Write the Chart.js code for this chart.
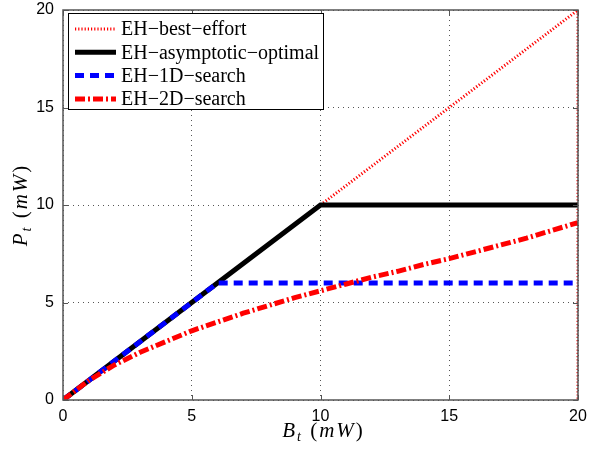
<!DOCTYPE html>
<html>
<head>
<meta charset="utf-8">
<script src="https://cdn.jsdelivr.net/npm/chart.js@4"></script>
<style>
  html, body { margin: 0; padding: 0; background: #fff; }
  #wrap { width: 589px; height: 455px; }
</style>
</head>
<body>
<div id="wrap"><canvas id="chart" width="589" height="455"></canvas></div>
<script>
// data
const seriesNames = ["EH\u2212best\u2212effort", "EH\u2212asymptotic\u2212optimal", "EH\u22121D\u2212search", "EH\u22122D\u2212search"];

const bestX = [0, 20, 20];
const bestY = [0, 20, 0];

const asymX = [0, 10, 20];
const asymY = [0, 10, 10];

const oneDX = [0, 6, 20];
const oneDY = [0, 6, 6];

const twoDX = [0, 1, 2, 3, 4, 5, 6, 7, 8, 9, 10, 11, 12, 13, 14, 15, 16, 17, 18, 19, 20];
const twoDY = [0, 1.0, 1.8, 2.45, 3.0, 3.55, 4.0, 4.45, 4.85, 5.25, 5.6, 5.95, 6.3, 6.6, 6.95, 7.25, 7.6, 7.95, 8.3, 8.7, 9.1];

const xTicks = [0, 5, 10, 15, 20];
const yTicks = [0, 5, 10, 15, 20];

const pts = (xs, ys) => xs.map((x, i) => ({ x: x, y: ys[i] }));

const styles = [
  { color: "#ff0000", width: 3, dash: [1.2, 2], order: 4 },
  { color: "#000000", width: 5, dash: [], order: 3 },
  { color: "#0000ff", width: 5, dash: [9, 6], order: 2 },
  { color: "#ff0000", width: 5, dash: [10, 3, 2, 3], order: 1 },
];

const allData = [pts(bestX, bestY), pts(asymX, asymY), pts(oneDX, oneDY), pts(twoDX, twoDY)];

const datasets = allData.map((d, i) => ({
  label: seriesNames[i],
  data: d,
  borderColor: styles[i].color,
  borderWidth: styles[i].width,
  borderDash: styles[i].dash,
  borderCapStyle: "butt",
  pointRadius: 0,
  fill: false,
  tension: 0,
  order: styles[i].order,
}));

const framePlugin = {
  id: "framePlugin",
  afterDraw(chart) {
    const { ctx, chartArea } = chart;
    const { left, top, right, bottom } = chartArea;
    const xs = chart.scales.x;
    const ys = chart.scales.y;

    ctx.save();

    // frame
    ctx.strokeStyle = "#555";
    ctx.lineWidth = 1.5;
    ctx.setLineDash([]);
    ctx.strokeRect(left, top, right - left, bottom - top);

    // inward tick marks
    ctx.lineWidth = 1;
    xTicks.forEach((t) => {
      const px = Math.round(xs.getPixelForValue(t)) + 0.5;
      ctx.beginPath();
      ctx.moveTo(px, bottom);
      ctx.lineTo(px, bottom - 5);
      ctx.moveTo(px, top);
      ctx.lineTo(px, top + 5);
      ctx.stroke();
    });
    yTicks.forEach((t) => {
      const py = Math.round(ys.getPixelForValue(t)) + 0.5;
      ctx.beginPath();
      ctx.moveTo(left, py);
      ctx.lineTo(left + 5, py);
      ctx.moveTo(right, py);
      ctx.lineTo(right - 5, py);
      ctx.stroke();
    });

    // legend box
    const lx = 68, ly = 13, lw = 255, lh = 96;
    ctx.fillStyle = "#fff";
    ctx.fillRect(lx, ly, lw, lh);
    ctx.strokeStyle = "#000";
    ctx.lineWidth = 1;
    ctx.strokeRect(lx + 0.5, ly + 0.5, lw, lh);

    ctx.font = "20px 'Liberation Serif', serif";
    ctx.textBaseline = "middle";
    ctx.textAlign = "left";
    chart.data.datasets.forEach((ds, i) => {
      const rowY = 29 + i * 23.3;
      ctx.beginPath();
      ctx.strokeStyle = ds.borderColor;
      ctx.lineWidth = ds.borderWidth;
      ctx.setLineDash(ds.borderDash);
      ctx.moveTo(75, rowY);
      ctx.lineTo(116, rowY);
      ctx.stroke();
      ctx.setLineDash([]);
      ctx.fillStyle = "#000";
      ctx.fillText(ds.label, 121, rowY + 1);
    });

    // axis titles with subscripts
    const parts = [
      { t: "", italic: true, size: 21, dy: 0 },
      { t: "t", italic: true, size: 14, dy: 4 },
      { t: " (", italic: false, size: 21, dy: 0 },
      { t: "mW", italic: true, size: 21, dy: 0 },
      { t: ")", italic: false, size: 21, dy: 0 },
    ];
    const setFont = (p) => {
      ctx.font = (p.italic ? "italic " : "") + p.size + "px 'Liberation Serif', serif";
    };
    const drawTitle = (main, cx, cy) => {
      const list = parts.map((p, i) => (i === 0 ? { ...p, t: main } : p));
      ctx.letterSpacing = "2px";
      let total = 0;
      list.forEach((p) => {
        setFont(p);
        total += ctx.measureText(p.t).width;
      });
      let x = cx - total / 2;
      ctx.textBaseline = "alphabetic";
      ctx.fillStyle = "#000";
      list.forEach((p) => {
        setFont(p);
        ctx.fillText(p.t, x, cy + p.dy);
        x += ctx.measureText(p.t).width;
      });
      ctx.letterSpacing = "0px";
    };

    drawTitle("B", (left + right) / 2 + 3, 437);

    ctx.translate(27, (top + bottom) / 2);
    ctx.rotate(-Math.PI / 2);
    drawTitle("P", 0, 0);

    ctx.restore();
  },
};

new Chart(document.getElementById("chart"), {
  type: "line",
  data: { datasets: datasets },
  options: {
    responsive: false,
    animation: false,
    layout: { padding: { top: 10, right: 11, left: 0, bottom: 0 } },
    plugins: {
      legend: { display: false },
      tooltip: { enabled: false },
    },
    scales: {
      x: {
        type: "linear",
        min: 0,
        max: 20,
        afterBuildTicks(scale) {
          scale.ticks = xTicks.map((v) => ({ value: v }));
        },
        afterFit(scale) {
          scale.height = 55;
          scale.paddingLeft = 0;
          scale.paddingRight = 0;
        },
        ticks: {
          color: "#000",
          font: { family: "'Liberation Sans', Arial, sans-serif", size: 16 },
          padding: 7,
          maxRotation: 0,
        },
        grid: { color: "#555", lineWidth: 1, drawTicks: false },
        border: { display: false, dash: [1, 4] },
      },
      y: {
        type: "linear",
        min: 0,
        max: 20,
        afterBuildTicks(scale) {
          scale.ticks = yTicks.map((v) => ({ value: v }));
        },
        afterFit(scale) {
          scale.width = 63;
          scale.paddingTop = 0;
          scale.paddingBottom = 0;
        },
        ticks: {
          color: "#000",
          font: { family: "'Liberation Sans', Arial, sans-serif", size: 16 },
          padding: 9,
        },
        grid: { color: "#555", lineWidth: 1, drawTicks: false },
        border: { display: false, dash: [1, 4] },
      },
    },
  },
  plugins: [framePlugin],
});
</script>
</body>
</html>
